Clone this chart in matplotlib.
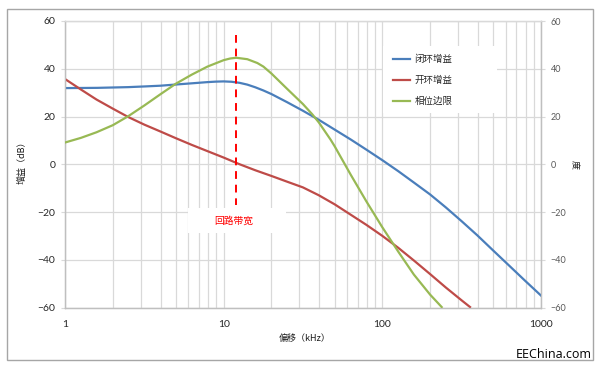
import matplotlib
matplotlib.use("Agg")
import matplotlib.pyplot as plt
from matplotlib.patches import Rectangle
from matplotlib.ticker import FixedLocator, NullFormatter, LogLocator

plt.rcParams['font.family'] = ['Lato', 'Noto Sans CJK SC', 'DejaVu Sans']

# ---- data ----
closed_f = [1, 1.6, 2.5, 3.2, 4, 5, 6.3, 7.9, 8.9, 10, 11.2, 12.6, 14.1, 15.8, 17.8, 20, 25.1, 31.6,
            39.8, 50.1, 63.1, 79.4, 100, 126, 158, 200, 251, 316, 398, 501, 631, 794, 1000]
closed_db = [31.9, 32.0, 32.3, 32.6, 32.9, 33.4, 33.9, 34.4, 34.6, 34.7, 34.55, 34.1, 33.35, 32.25, 30.9,
             29.4, 26.0, 22.4, 18.6, 14.5, 10.4, 6.1, 1.7, -2.9, -7.65, -12.65, -18.05, -23.85, -29.85,
             -36.2, -42.5, -48.8, -55.0]

open_f = [1, 1.26, 1.58, 2, 2.5, 3.16, 4, 5, 6.3, 7.9, 10, 12.6, 15.8, 20, 25.1, 31.6, 39.8, 50.1,
          63.1, 79.4, 100, 126, 158, 200, 251, 316, 357]
open_db = [35.7, 31.3, 27.1, 23.3, 19.8, 16.6, 13.7, 10.9, 8.1, 5.5, 2.8, 0.0, -2.5, -4.9, -7.3, -9.7,
           -13.0, -16.8, -21.1, -25.4, -30.0, -35.0, -40.3, -46.0, -51.6, -57.0, -59.8]

phase_f = [1, 1.26, 1.58, 2, 2.5, 3.16, 4, 5, 6.3, 7.9, 10, 11, 12, 14.1, 16.3, 17.8, 20, 25.1, 31.6,
           36.2, 39.8, 47.2, 50.1, 63.1, 79.4, 100, 126, 158, 200, 236.6]
phase_deg = [9.1, 11.05, 13.4, 16.35, 20.1, 24.6, 29.35, 33.75, 37.55, 40.9, 43.6, 44.3, 44.6, 44.0,
             42.4, 40.9, 38.0, 31.6, 25.2, 20.9, 17.5, 10.3, 7.5, -4.3, -15.6, -26.4, -36.6, -46.2,
             -54.6, -59.8]

series_names = ['闭环增益', '开环增益', '相位边限']
bandwidth_khz = 12
bandwidth_label = '回路带宽'
y_ticks = [-60, -40, -20, 0, 20, 40, 60]
x_ticks = [1, 10, 100, 1000]
x_tick_labels = ['1', '10', '100', '1000']

BLUE = '#4a7ebb'
RED = '#be4b48'
GREEN = '#98b954'
GRID = '#d9d9d9'

W, H = 600, 368
fig = plt.figure(figsize=(6, 3.68), dpi=100)
fig.patch.set_facecolor('white')
ax = fig.add_axes([65 / W, 1 - 307.5 / H, 476 / W, 286.5 / H])
ax2 = ax.twinx()

ax.set_xscale('log')
ax.set_xlim(1, 1000)
ax.set_ylim(-60, 60)
ax2.set_ylim(-60, 60)
ax.set_axisbelow(True)

ax.xaxis.set_major_locator(FixedLocator(x_ticks))
ax.set_xticklabels(x_tick_labels)
ax.xaxis.set_minor_locator(LogLocator(base=10, subs=range(2, 10)))
ax.xaxis.set_minor_formatter(NullFormatter())
ax.set_yticks(y_ticks)
ax2.set_yticks(y_ticks)
ax.grid(True, which='both', axis='x', color=GRID, lw=0.9)
ax.grid(True, which='major', axis='y', color=GRID, lw=0.9)

ax.tick_params(axis='x', which='both', length=0, pad=9, labelsize=7.5, labelcolor='#262626')
ax.tick_params(axis='y', length=3, color=GRID, pad=4, labelsize=7.5, labelcolor='#262626')
ax2.tick_params(axis='y', length=3, color=GRID, pad=4, labelsize=6.5, labelcolor='#595959')

for a in (ax, ax2):
    for s in a.spines.values():
        s.set_color('#bfbfbf')
        s.set_linewidth(0.9)
    a.spines['top'].set_color(GRID)

# white boxes (legend area and bandwidth label area)
ax.add_patch(Rectangle(((383 - 65) / 476, (307.5 - 113) / 286.5), (497 - 383) / 476, (113 - 46) / 286.5,
                       transform=ax.transAxes, facecolor='white', edgecolor='none', zorder=1))
ax.add_patch(Rectangle(((188 - 65) / 476, (307.5 - 233) / 286.5), (286 - 188) / 476, (233 - 208) / 286.5,
                       transform=ax.transAxes, facecolor='white', edgecolor='none', zorder=1))

l1, = ax.plot(closed_f, closed_db, color=BLUE, lw=1.6, zorder=3, label=series_names[0])
l2, = ax.plot(open_f, open_db, color=RED, lw=1.6, zorder=3, label=series_names[1])
l3, = ax2.plot(phase_f, phase_deg, color=GREEN, lw=1.6, zorder=3, label=series_names[2])

ax.plot([bandwidth_khz, bandwidth_khz], [54, -17], color='#ff0000', lw=1.4, ls=(0, (4, 3)), zorder=4)
ax.text(bandwidth_khz * 0.97, -23.7, bandwidth_label, color='#ff0000', fontsize=7,
        ha='center', va='center', family=['Noto Sans CJK SC'], zorder=5)

leg = ax2.legend(handles=[l1, l2, l3], loc='upper left',
                 bbox_to_anchor=((388 - 65) / 476, (307.5 - 50) / 286.5),
                 frameon=False, borderpad=0, handlelength=1.8, handletextpad=0.5,
                 labelspacing=1.25, prop={'family': 'Noto Sans CJK SC', 'size': 6.8})
for t in leg.get_texts():
    t.set_color('#262626')

fig.text(22 / W, 1 - 160 / H, '增益（dB）', rotation=90, ha='center', va='center',
         fontsize=6.5, family=['Noto Sans CJK SC'], color='#1a1a1a')
fig.text(574 / W, 1 - 164 / H, '度', rotation=270, ha='center', va='center',
         fontsize=6.5, family=['Noto Sans CJK SC'], color='#1a1a1a')
fig.text(305 / W, 1 - 338 / H, '偏移（kHz）', ha='center', va='center',
         fontsize=6.5, family=['Noto Sans CJK SC'], color='#1a1a1a')

fig.add_artist(Rectangle((7 / W, 1 - 360 / H), (593 - 7) / W, (360 - 9) / H,
                         transform=fig.transFigure, fill=False, edgecolor='#a6a6a6', lw=1))
fig.text(592 / W, 1 - 361 / H, 'EEChina.com', ha='right', va='bottom', fontsize=9,
         family=['Open Sans', 'DejaVu Sans'], color='black')

fig.savefig('out.png', dpi=100, facecolor='white')
